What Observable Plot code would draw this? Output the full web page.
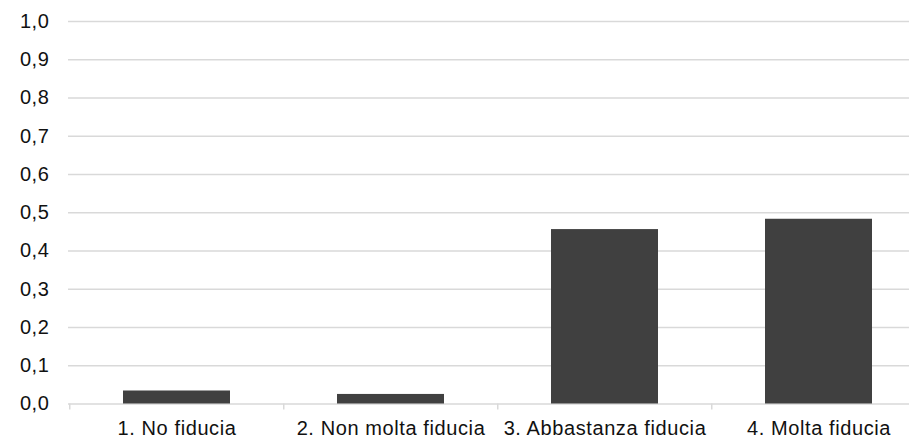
<!DOCTYPE html>
<html>
<head>
<meta charset="utf-8">
<script src="https://cdn.jsdelivr.net/npm/d3@7"></script>
<script src="https://cdn.jsdelivr.net/npm/@observablehq/plot@0.6"></script>
<style>
  html, body { margin: 0; padding: 0; background: #fff; }
  #chart svg { display: block; }
  #chart svg text { font-size: 20px; letter-spacing: 0.6px; }
</style>
</head>
<body>
<div id="chart"></div>
<script>
const categories = ["1. No fiducia", "2. Non molta fiducia", "3. Abbastanza fiducia", "4. Molta fiducia"];
const values = [0.034, 0.025, 0.456, 0.483];
const yTicks = [0, 0.1, 0.2, 0.3, 0.4, 0.5, 0.6, 0.7, 0.8, 0.9, 1.0];

const data = categories.map((c, i) => ({category: c, value: values[i]}));
const fmt = d => d.toFixed(1).replace(".", ",");

const W = 909, H = 439;
const xLeft = 68, xRight = 926;
const step = (xRight - xLeft) / categories.length;

const chart = Plot.plot({
  width: W,
  height: H,
  marginLeft: xLeft,
  marginRight: 0,
  marginTop: 21,
  marginBottom: 35.5,
  style: {fontFamily: "'Liberation Sans', Arial, sans-serif", fontSize: "20px", color: "#111", background: "#fff"},
  x: {domain: categories, range: [xLeft, xRight], paddingInner: 0.5, paddingOuter: 0.25, label: null},
  y: {domain: [0, 1], label: null},
  marks: [
    Plot.ruleY(yTicks, {stroke: "#d9d9d9", strokeWidth: 1.5}),
    Plot.barY(data, {x: "category", y: "value", fill: "#404040"}),
    Plot.axisY(yTicks, {tickSize: 0, tickPadding: 19, tickFormat: fmt, fontSize: 20, fill: "#111", label: null}),
    Plot.axisX({tickSize: 0, tickPadding: 17, fontSize: 20, fill: "#111", label: null}),
    Plot.axisX({tickSize: 6, text: null, stroke: "#d9d9d9", strokeWidth: 1.5, dx: -step / 2, label: null})
  ]
});
document.getElementById("chart").appendChild(chart);
</script>
</body>
</html>
